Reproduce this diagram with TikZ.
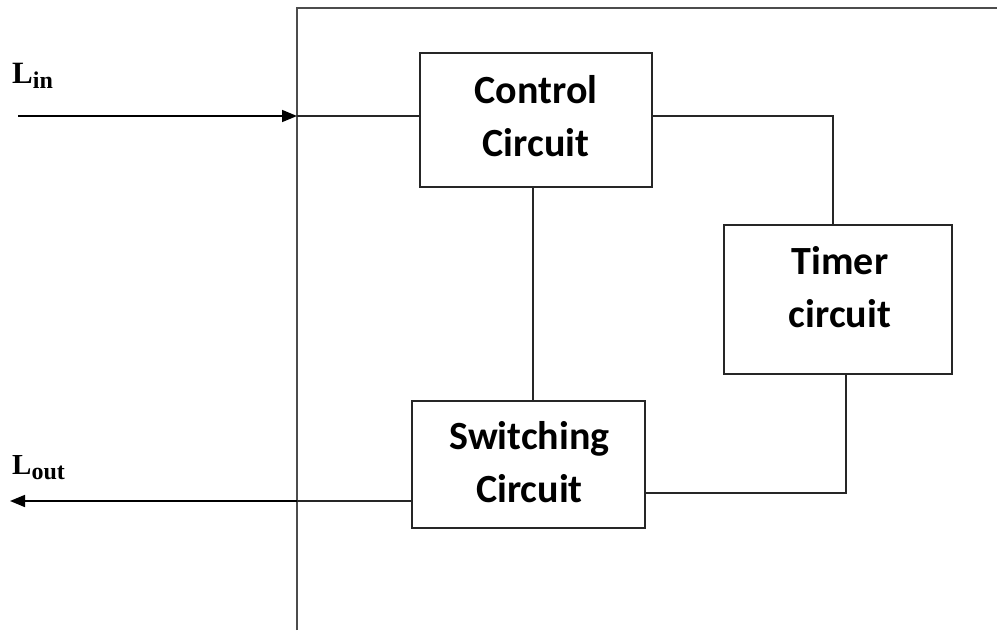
\documentclass[tikz,border=0pt]{standalone}
\usepackage{fontspec}
\setmainfont{Carlito}
\newfontfamily\tnr{Liberation Serif}
\usetikzlibrary{arrows.meta}
\tikzset{
  box/.style={draw=black!85, line width=1.5pt, fill=white, inner sep=0pt},
  lbl/.style={align=center, inner sep=0pt, font=\fontsize{40}{53}\selectfont\bfseries},
  wire/.style={draw=black!85, line width=1.5pt},
  frame/.style={draw=black!70, line width=2pt},
  sig/.style={draw=black, line width=1.6pt, -{Triangle[length=15pt,width=12pt]}},
  io/.style={anchor=base west, inner sep=0pt, font=\tnr\bfseries}
}
\begin{document}
\begin{tikzpicture}[x=1pt,y=-1pt]
\useasboundingbox (0,0) rectangle (997,630);
% outer frame
\coordinate (fb) at (297,630);
\coordinate (ft) at (297,8);
\coordinate (fr) at (997,8);
\draw[frame] (fb) -- (ft) -- (fr);
% boxes
\node[box, minimum width=232pt, minimum height=134pt] (ctrl) at (536,120) {};
\node[lbl] (ctrlt) at (536,116) {Control\\Circuit};
\node[box, minimum width=228pt, minimum height=149pt] (timer) at (838,299.5) {};
\node[lbl] (timert) at (840,287.5) {Timer\\circuit};
\node[box, minimum width=233pt, minimum height=127pt] (sw) at (528.5,464.5) {};
\node[lbl] (swt) at (529.5,462) {Switching\\Circuit};
% I/O labels
\node[io] (lin) at (12,83) {\fontsize{31}{31}\selectfont L\raisebox{-5pt}{\fontsize{24}{24}\selectfont in}};
\node[io] (lout) at (12,474) {\fontsize{29}{29}\selectfont L\raisebox{-5pt}{\fontsize{24}{24}\selectfont out}};
% coordinates
\coordinate (inS) at (18,116);
\coordinate (inE) at (297,116);
\coordinate (outW) at (10,501);
\coordinate (outE) at (297,501);
\coordinate (tk) at (833,116);
\coordinate (cv) at (533,0);
\coordinate (tb) at (846,493);
% connectors
\draw[sig] (inS) -- (inE);
\draw[wire] (inE) -- (inE -| ctrl.west);
\draw[sig] (outE) -- (outW);
\draw[wire] (outE) -- (outE -| sw.west);
\draw[wire] (ctrl.east |- tk) -- (tk) -- (tk |- timer.north);
\draw[wire] (cv |- ctrl.south) -- (cv |- sw.north);
\draw[wire] (tb |- timer.south) -- (tb) -- (tb -| sw.east);
\end{tikzpicture}
\end{document}
